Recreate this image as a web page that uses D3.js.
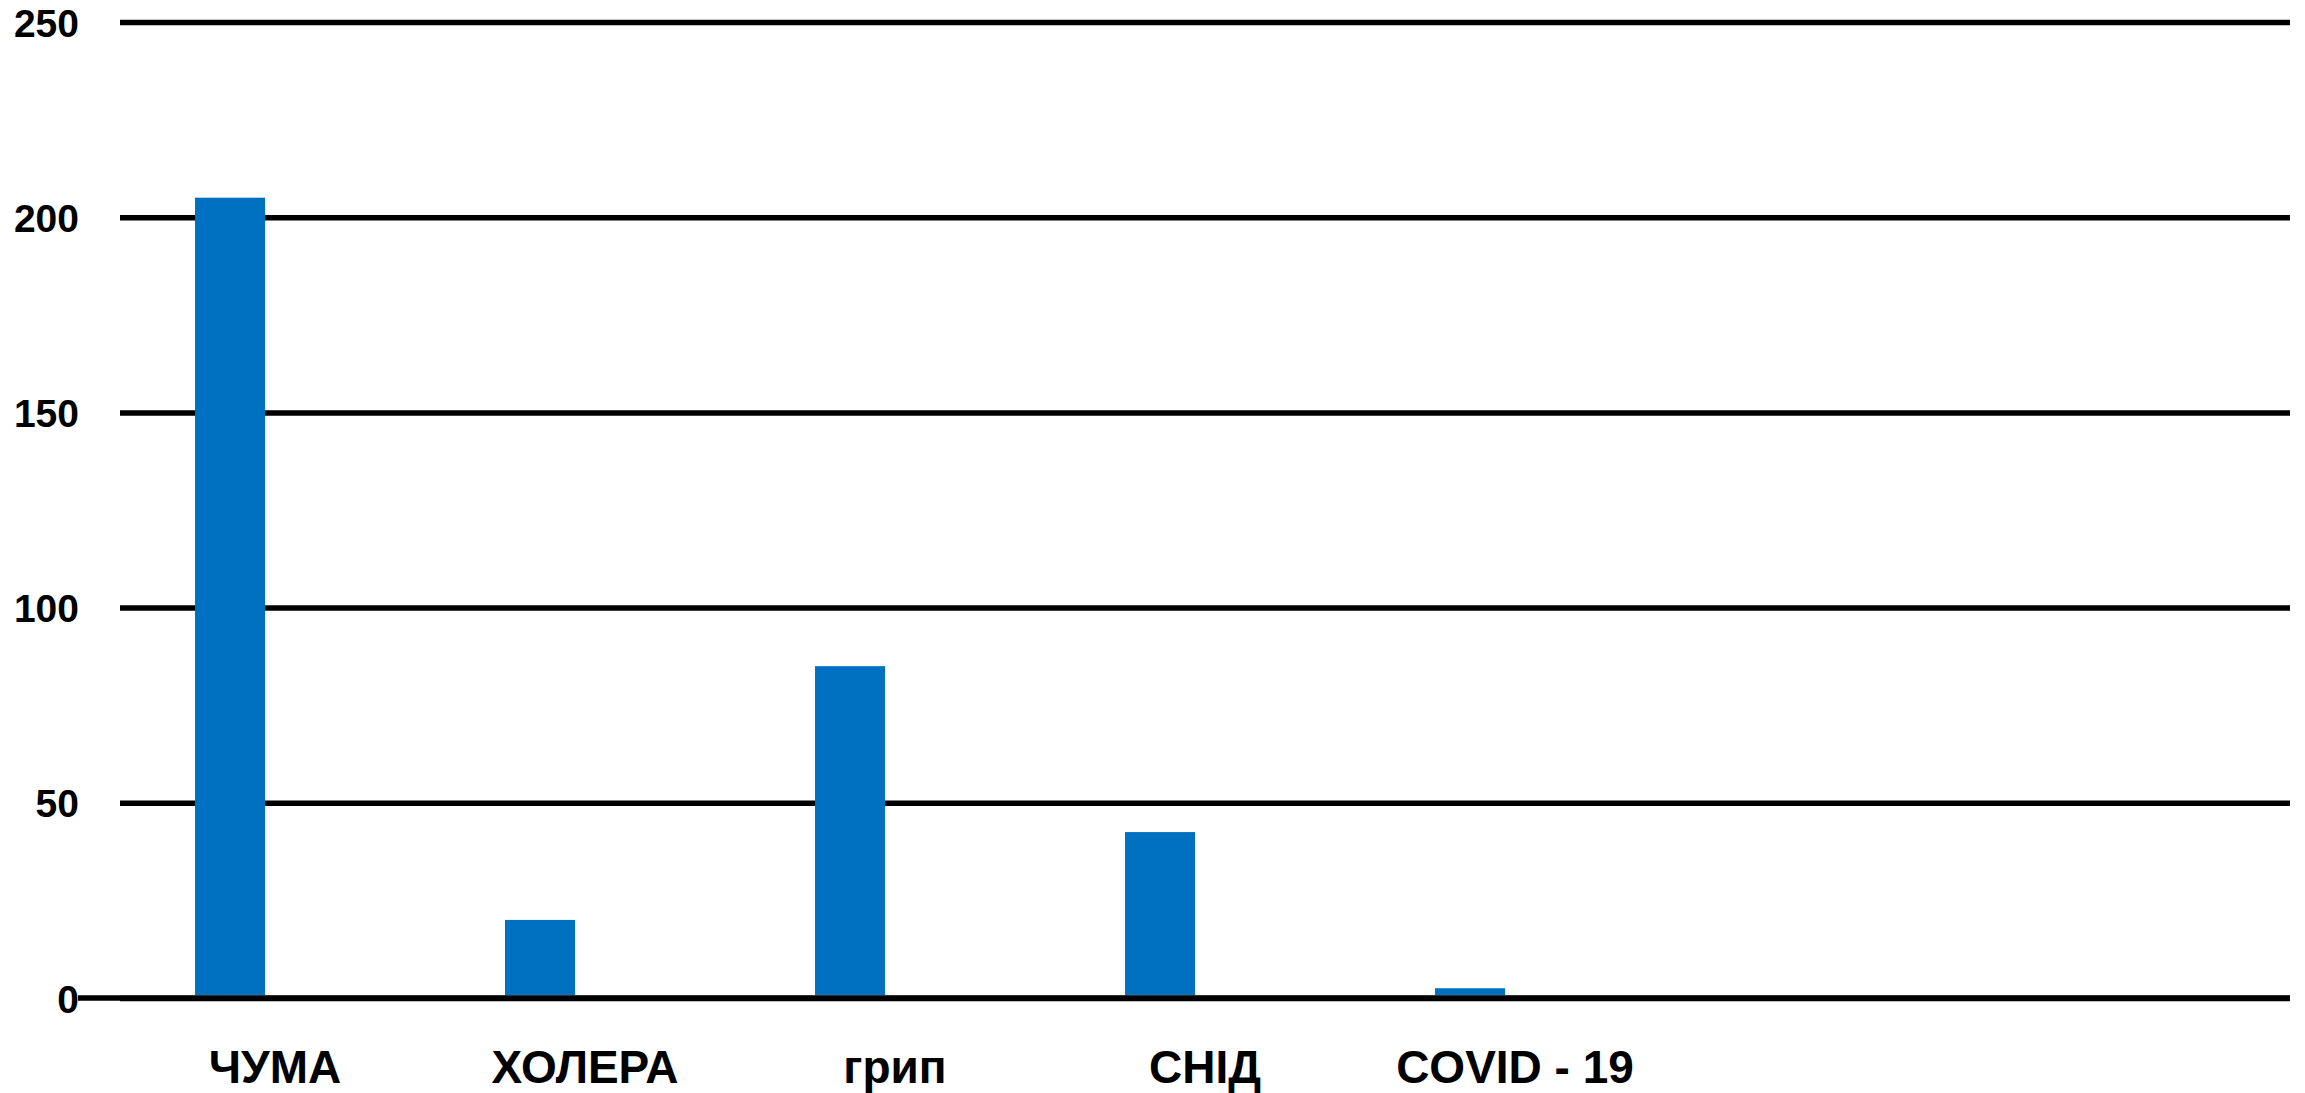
<!DOCTYPE html>
<html>
<head>
<meta charset="utf-8">
<script src="https://cdn.jsdelivr.net/npm/d3@7"></script>
<style>
  body { margin: 0; background: #fff; }
  text { font-family: "Liberation Sans", Arial, sans-serif; font-weight: bold; fill: #000; }
</style>
</head>
<body>
<div id="chart"></div>
<script>
// categories (the last two slots of the axis are empty)
var categories = ["ЧУМА", "ХОЛЕРА", "грип", "СНІД", "COVID - 19", "", " "];
var values = [205, 20, 85, 42.5, 2.5];
var yTicks = [0, 50, 100, 150, 200, 250];

function diseaseChart() {
  var self = this;
  var width = 2305, height = 1093;
  var left = 120, right = 2290, top = 22, bottom = 998;

  this.init = function () {
    self.svg = d3.select("#chart").append("svg")
      .attr("width", width).attr("height", height);

    self.x = d3.scaleBand().domain(categories).range([left, right]);
    self.y = d3.scaleLinear().domain([0, 250]).range([bottom, top]);

    self.drawGrid();
    self.drawBars();
    self.drawLabels();
  };

  this.drawGrid = function () {
    var g = self.svg.append("g")
      .attr("transform", "translate(" + left + ",0)")
      .call(d3.axisLeft(self.y).tickValues(yTicks)
        .tickSize(-(right - left)).tickPadding(41));
    g.select(".domain").remove();
    g.selectAll(".tick line").attr("stroke", "#000").attr("stroke-width", 5.5);
    g.selectAll(".tick text").style("font-size", "39px").attr("dy", "0.36em");

    // base line reaches further left than the grid
    self.svg.append("line")
      .attr("x1", 78).attr("x2", right)
      .attr("y1", self.y(0)).attr("y2", self.y(0))
      .attr("stroke", "#000").attr("stroke-width", 5.5);
  };

  this.drawBars = function () {
    var bw = self.x.bandwidth();
    self.svg.append("g").selectAll("rect")
      .data(values)
      .enter().append("rect")
      .attr("x", function (d, i) { return self.x(categories[i]) + bw * 0.242; })
      .attr("width", bw * 0.226)
      .attr("y", function (d) { return self.y(d); })
      .attr("height", function (d) { return self.y(0) - self.y(d) - 3; })
      .attr("fill", "#0070C0");
  };

  this.drawLabels = function () {
    self.svg.append("g").selectAll("text")
      .data(categories.slice(0, values.length))
      .enter().append("text")
      .attr("x", function (d) { return self.x(d) + self.x.bandwidth() / 2; })
      .attr("y", 1083)
      .attr("text-anchor", "middle")
      .style("font-size", "46px")
      .text(function (d) { return d; });
  };

  this.init();
}

new diseaseChart();
</script>
</body>
</html>
